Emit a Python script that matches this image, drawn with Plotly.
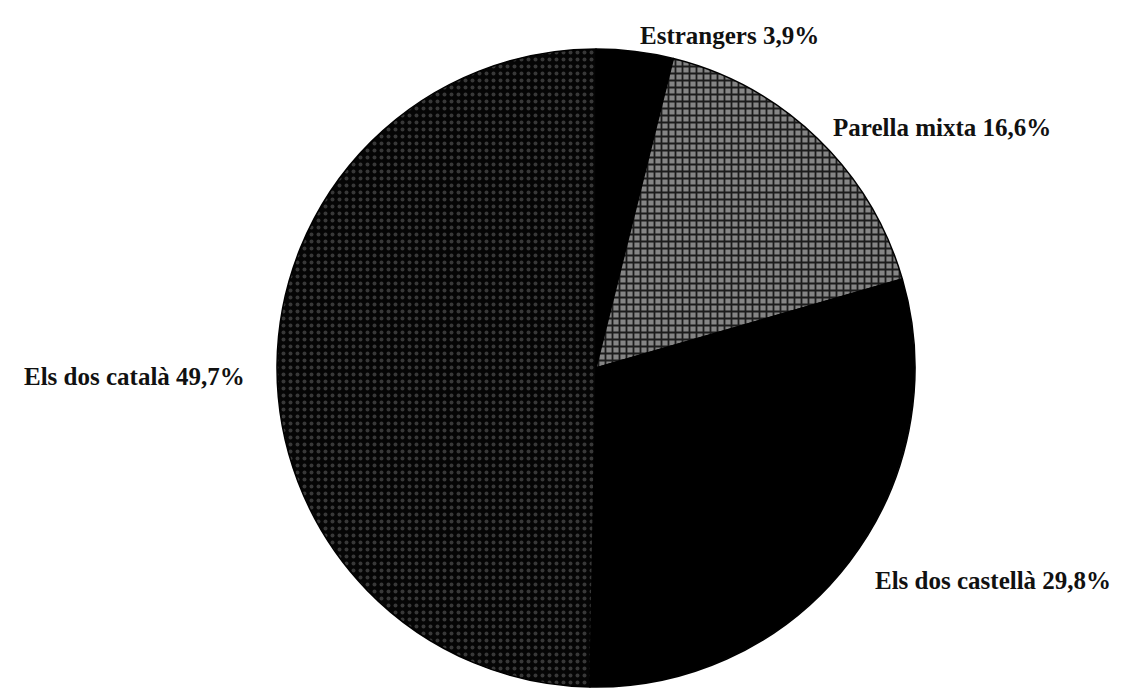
import plotly.graph_objects as go

# Household language of the couple (share of respondents, %)
labels = ["Estrangers", "Parella mixta", "Els dos castellà", "Els dos català"]
values = [3.9, 16.6, 29.8, 49.7]

# Label placement (pixel coordinates of the left end / vertical middle of each text)
label_x = [638, 831, 873, 22]
label_y = [36, 127, 580, 376]

W, H = 1130, 688

def pct(v):
    return f"{v:.1f}".replace(".", ",") + "%"

patterns = [
    dict(shape="", bgcolor="#000000"),
    dict(shape="+", bgcolor="#858585", fgcolor="#1c1c1c", size=7, solidity=0.45),
    dict(shape="", bgcolor="#000000"),
    dict(shape=".", bgcolor="#050505", fgcolor="#383838", size=7, solidity=0.25),
]
fills = ["#000000", "#858585", "#000000", "#050505"]

cx, cy, r = 596, 368, 319

fig = go.Figure(
    go.Pie(
        labels=labels,
        values=values,
        sort=False,
        direction="clockwise",
        rotation=0,
        textinfo="none",
        hoverinfo="label+percent",
        marker=dict(
            colors=fills,
            pattern=dict(
                shape=[p["shape"] for p in patterns],
                bgcolor=[p["bgcolor"] for p in patterns],
                fgcolor=[p.get("fgcolor", "#000000") for p in patterns],
                size=[p.get("size", 8) for p in patterns],
                solidity=[p.get("solidity", 0.3) for p in patterns],
            ),
            line=dict(color="#000000", width=1.5),
        ),
        domain=dict(
            x=[(cx - r) / W, (cx + r) / W],
            y=[1 - (cy + r) / H, 1 - (cy - r) / H],
        ),
        showlegend=False,
    )
)

annotations = []
for lab, v, px, py in zip(labels, values, label_x, label_y):
    annotations.append(
        dict(
            text=f"<b>{lab} {pct(v)}</b>",
            x=px / W,
            y=1 - py / H,
            xref="paper",
            yref="paper",
            xanchor="left",
            yanchor="middle",
            showarrow=False,
            font=dict(family="Liberation Serif", size=25, color="#111111"),
        )
    )

fig.update_layout(
    width=W,
    height=H,
    margin=dict(l=0, r=0, t=0, b=0),
    paper_bgcolor="white",
    plot_bgcolor="white",
    annotations=annotations,
)

fig.write_html("out.html")
